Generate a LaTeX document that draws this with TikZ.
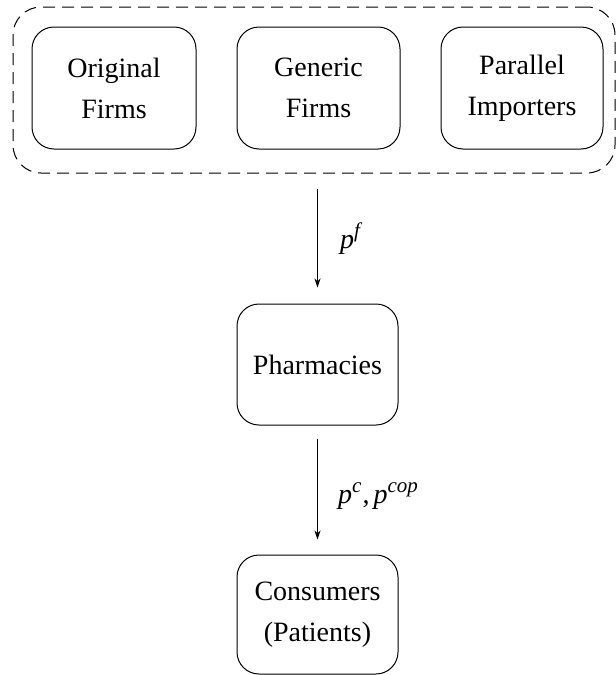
\documentclass[tikz,border=0pt]{standalone}
\usepackage{fontspec}
\setmainfont{Liberation Serif}
\usetikzlibrary{arrows.meta}
\newcommand{\supit}[1]{\raisebox{11pt}{\fontsize{21}{21}\selectfont\itshape #1}}
\begin{document}
\begin{tikzpicture}[x=1pt,y=-1pt,
  box/.style={draw,line width=1pt,rounded corners=22pt,align=center,font=\fontsize{28}{41}\selectfont,inner sep=0pt},
  group/.style={draw,line width=1pt,dash pattern=on 12pt off 7pt,rounded corners=28pt},
  conn/.style={line width=0.9pt,-{Stealth[length=9pt,width=6pt]}},
  lab/.style={font=\fontsize{28}{33}\selectfont\itshape,anchor=base west,inner sep=0pt}]
\useasboundingbox (0,0) rectangle (616,675);
\node[box,minimum width=164pt,minimum height=122pt] (orig) at (114,88) {Original\\Firms};
\node[box,minimum width=163pt,minimum height=122pt] (gen) at (318.5,88) {Generic\\Firms};
\node[box,minimum width=162pt,minimum height=122pt] (par) at (522,88) {Parallel\\Importers};
\node[group,minimum width=602pt,minimum height=166pt] (grp) at (314,90) {};
\node[box,minimum width=161pt,minimum height=121pt] (pharm) at (317.5,364.5) {Pharmacies};
\node[box,minimum width=161pt,minimum height=119pt] (cons) at (317.5,614.5) {Consumers\\(Patients)};
\draw[conn,shorten <=15pt,shorten >=16pt] (grp.south -| pharm.north) -- (pharm.north);
\draw[conn,shorten <=13pt,shorten >=15pt] (pharm.south) -- (cons.north);
\node[lab] (pf) at (340,248) {p\supit{f}};
\node[lab] (pc) at (338,503) {p\supit{c}\kern1pt\upshape,\kern4pt\itshape p\supit{cop}};
\end{tikzpicture}
\end{document}
